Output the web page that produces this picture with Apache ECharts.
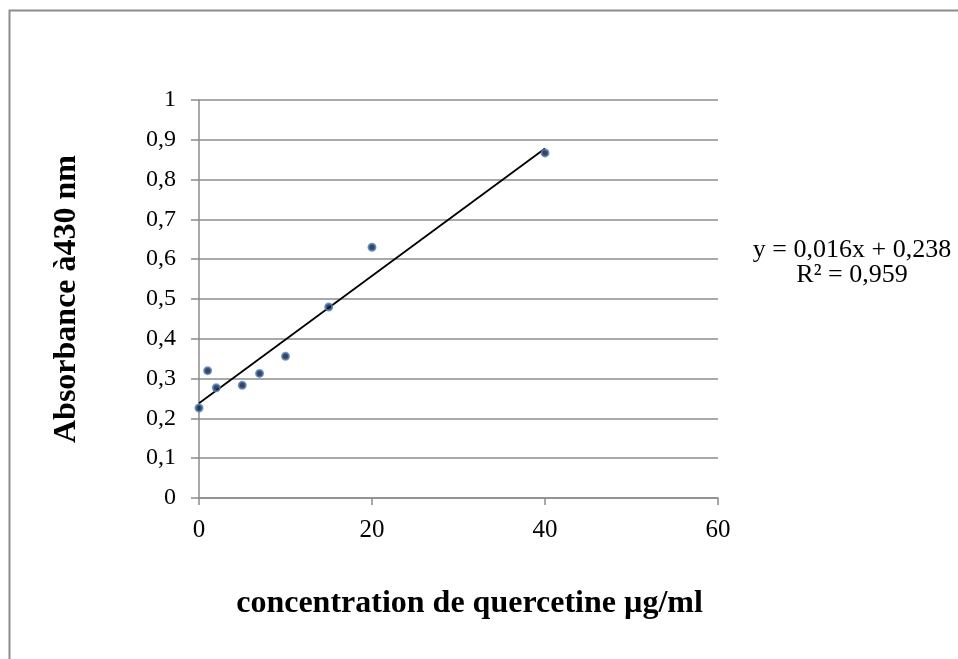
<!DOCTYPE html>
<html>
<head>
<meta charset="utf-8">
<script src="https://cdn.jsdelivr.net/npm/echarts@6/dist/echarts.min.js"></script>
<style>html,body{margin:0;padding:0;background:#fff;}#c{width:958px;height:659px;}</style>
</head>
<body>
<div id="c"></div>
<script>
const concentrations = [0, 1, 2, 5, 7, 10, 15, 20, 40];
const absorbances = [0.226, 0.320, 0.277, 0.283, 0.313, 0.356, 0.480, 0.630, 0.867];
const trendX = [0, 40];
const trendY = [0.238, 0.878];
const xTicks = [0, 20, 40, 60];
const yTicks = [0, 0.1, 0.2, 0.3, 0.4, 0.5, 0.6, 0.7, 0.8, 0.9, 1];
const equationText = 'y = 0,016x + 0,238';
const r2Text = 'R² = 0,959';
const xTitle = 'concentration de quercetine µg/ml';
const yTitle = 'Absorbance à430 nm';

const font = '"Liberation Serif", "Times New Roman", serif';
const chart = echarts.init(document.getElementById('c'));
chart.setOption({
  backgroundColor: '#fff',
  animation: false,
  grid: { left: 199, right: 240, top: 100, bottom: 161 },
  xAxis: {
    type: 'value', min: 0, max: 60, interval: 20,
    axisLine: { show: true, lineStyle: { color: '#8c8c8c', width: 1.5 } },
    axisTick: { show: true, length: 7, lineStyle: { color: '#8c8c8c', width: 1.5 } },
    splitLine: { show: false },
    axisLabel: { color: '#000', fontFamily: font, fontSize: 25, margin: 20,
      formatter: v => String(v) },
    name: xTitle, nameLocation: 'middle', nameGap: 90,
    nameTextStyle: { color: '#000', fontFamily: font, fontSize: 32, fontWeight: 'bold',
      padding: [0, 0, 0, 22] }
  },
  yAxis: {
    type: 'value', min: 0, max: 1, interval: 0.1,
    axisLine: { show: true, onZero: false, lineStyle: { color: '#8c8c8c', width: 1.5 } },
    axisTick: { show: true, length: 8, lineStyle: { color: '#8c8c8c', width: 1.5 } },
    splitLine: { show: true, lineStyle: { color: '#8c8c8c', width: 1.5 } },
    axisLabel: { color: '#000', fontFamily: font, fontSize: 24, margin: 23,
      formatter: v => String(Math.round(v * 10) / 10).replace('.', ',') },
    name: yTitle, nameLocation: 'middle', nameGap: 116, nameRotate: 90,
    nameTextStyle: { color: '#000', fontFamily: font, fontSize: 32, fontWeight: 'bold' }
  },
  series: [
    {
      type: 'line',
      data: trendX.map((x, i) => [x, trendY[i]]),
      symbol: 'none',
      lineStyle: { color: '#000', width: 1.8 },
      z: 2
    },
    {
      type: 'scatter',
      data: concentrations.map((x, i) => [x, absorbances[i]]),
      symbol: 'circle', symbolSize: 7,
      itemStyle: { color: '#0b1530', borderColor: '#4f81bd', borderWidth: 2 },
      z: 3
    }
  ],
  graphic: [
    { type: 'rect', shape: { x: 9.5, y: 10.5, width: 1000, height: 1000 },
      style: { fill: 'none', stroke: '#8c8c8c', lineWidth: 2 }, silent: true, z: -1 },
    { type: 'text', x: 852, y: 250,
      style: { text: equationText, fontFamily: font, fontSize: 26, fill: '#000',
        textAlign: 'center', textVerticalAlign: 'middle' } },
    { type: 'text', x: 852, y: 275,
      style: { text: r2Text, fontFamily: font, fontSize: 26, fill: '#000',
        textAlign: 'center', textVerticalAlign: 'middle' } }
  ]
});
</script>
</body>
</html>
